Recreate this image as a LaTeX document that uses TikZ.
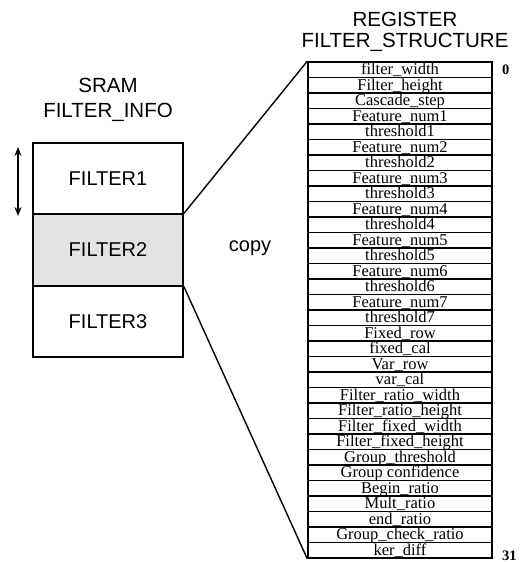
\documentclass[tikz,border=0pt]{standalone}
\usepackage{fontspec}
\setmainfont{Liberation Serif}
\newfontfamily\labelsans{Liberation Sans}
\usetikzlibrary{arrows.meta}
\begin{document}
\begin{tikzpicture}[x=1pt,y=-1pt,
  title/.style={font=\labelsans\fontsize{20.5}{24}\selectfont, anchor=base, inner sep=0},
  sramcell/.style={draw, line width=1.7pt, minimum width=150pt, minimum height=71.33pt,
    inner sep=0, font=\labelsans\fontsize{20}{24}\selectfont},
  regrow/.style={draw, line width=1.5pt, minimum width=184pt, minimum height=15.5pt,
    inner sep=0, text height=12.5pt, text depth=3pt, font=\fontsize{16.5}{18}\selectfont},
  bitidx/.style={font=\bfseries\fontsize{14.5}{16}\selectfont, anchor=base west, inner sep=0},
  link/.style={line width=1.4pt},
  tip/.tip={Stealth[length=9pt,width=7pt]}
]
\useasboundingbox (0,0) rectangle (523,562);

% SRAM side
\node[title] (sramA) at (108,92) {SRAM};
\node[title] (sramB) at (108,117) {FILTER\_INFO};
\node[sramcell] (f1) at (108,178.67) {FILTER1};
\node[sramcell, fill=gray!22] (f2) at (108,250) {FILTER2};
\node[sramcell] (f3) at (108,321.33) {FILTER3};

\coordinate (arrtop) at (18,147);
\coordinate (arrbot) at (18,216);
\draw[line width=1.6pt, tip-tip] (arrtop) -- (arrbot);

\node[font=\labelsans\fontsize{20}{24}\selectfont, anchor=base, inner sep=0] (copy) at (250,251) {copy};

% register side
\node[title] (regA) at (405,27) {REGISTER};
\node[title] (regB) at (405,47) {FILTER\_STRUCTURE};

\foreach \t [count=\i from 0] in {filter\_width, Filter\_height, Cascade\_step,
  Feature\_num1, threshold1, Feature\_num2, threshold2, Feature\_num3, threshold3,
  Feature\_num4, threshold4, Feature\_num5, threshold5, Feature\_num6, threshold6,
  Feature\_num7, threshold7, Fixed\_row, fixed\_cal, Var\_row, var\_cal,
  Filter\_ratio\_width, Filter\_ratio\_height, Filter\_fixed\_width,
  Filter\_fixed\_height, Group\_threshold, Group confidence, Begin\_ratio,
  Mult\_ratio, end\_ratio, Group\_check\_ratio, ker\_diff}
  \node[regrow] (r\i) at (400,{62+15.5*\i+7.75}) {\t};

\node[bitidx] (idx0) at (502,74) {0};
\node[bitidx] (idx31) at (502,560) {31};

% copy links
\draw[link] (f2.north east) -- (r0.north west);
\draw[link] (f2.south east) -- (r31.south west);
\end{tikzpicture}
\end{document}
